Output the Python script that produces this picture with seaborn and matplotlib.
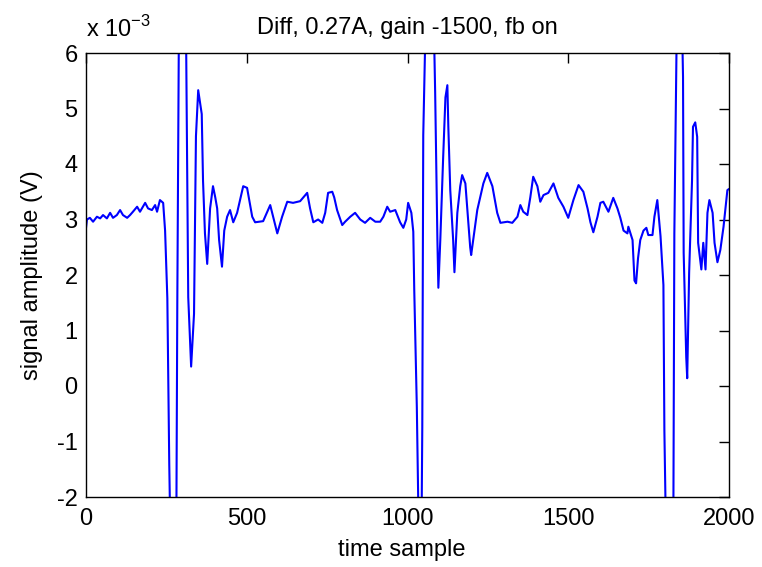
import matplotlib
matplotlib.use("Agg")
import matplotlib.pyplot as plt
import numpy as np
import pandas as pd
import seaborn as sns

# ---- data (amplitude in units of 1e-3 V) ----
t_base = [0, 3, 12, 22, 34, 44, 53, 65, 75, 84, 96, 106, 115, 128, 137, 146,
          159, 168, 184, 193, 205, 215, 221, 230, 240, 246]
v_base = [2.85, 3.0, 3.03, 2.96, 3.05, 3.02, 3.08, 3.02, 3.12, 3.03, 3.08, 3.17,
          3.08, 3.03, 3.08, 3.14, 3.23, 3.14, 3.3, 3.2, 3.17, 3.26, 3.14, 3.35,
          3.3, 2.8]

t_spike1 = [253, 259, 262, 272, 281, 284, 289, 300, 311, 313, 318, 327, 336,
            342, 349, 360, 364, 370, 377]
v_spike1 = [1.58, -1.42, -2.5, -4.5, -2.5, 1.5, 6.5, 8.5, 6.5, 5.15, 1.6, 0.35,
            1.3, 4.5, 5.33, 4.9, 3.7, 2.75, 2.2]

t_mid1 = [386, 395, 402, 408, 414, 423, 430, 439, 448, 458, 470, 489, 501, 517,
          526, 551, 573, 582, 595, 610, 626, 644, 666, 688, 697, 707, 722, 735,
          744, 753, 766, 772, 781, 797, 806, 822, 837, 853, 868, 884, 900, 915,
          925, 937, 946, 962, 977, 987, 996, 1002, 1012, 1018]
v_mid1 = [3.2, 3.6, 3.4, 3.2, 2.63, 2.15, 2.8, 3.05, 3.17, 2.95, 3.12, 3.6, 3.57,
          3.05, 2.95, 2.97, 3.26, 3.05, 2.75, 3.05, 3.32, 3.3, 3.33, 3.48, 3.2,
          2.95, 3.0, 2.94, 3.12, 3.48, 3.5, 3.4, 3.17, 2.9, 2.96, 3.05, 3.12, 3.0,
          2.94, 3.03, 2.96, 2.96, 3.05, 3.23, 3.14, 3.17, 2.95, 2.85, 3.0, 3.3,
          3.12, 2.78]

t_spike2 = [1021, 1029, 1034, 1039, 1044, 1046, 1049, 1055, 1069, 1083, 1086,
            1093, 1096, 1102, 1111, 1118, 1124, 1127, 1133, 1142, 1146]
v_spike2 = [1.73, -0.38, -2.3, -3.5, -2.3, -0.74, 4.52, 6.2, 8.5, 6.2, 5.3,
            2.63, 1.77, 2.63, 4.13, 5.2, 5.42, 4.67, 3.53, 2.63, 2.05]

t_mid2 = [1155, 1164, 1170, 1180, 1195, 1198, 1217, 1236, 1248, 1264, 1279,
          1289, 1311, 1326, 1342, 1351, 1360, 1373, 1382, 1391, 1404, 1413,
          1423, 1438, 1454, 1469, 1485, 1500, 1516, 1532, 1547, 1560, 1569,
          1578, 1591, 1600, 1609, 1625, 1640, 1653, 1662, 1672, 1684, 1687,
          1700, 1706, 1711, 1717, 1724, 1734, 1743, 1749, 1762, 1768, 1777, 1787]
v_mid2 = [3.12, 3.6, 3.8, 3.65, 2.5, 2.36, 3.17, 3.65, 3.84, 3.6, 3.12, 2.94,
          2.96, 2.94, 3.05, 3.26, 3.14, 3.08, 3.4, 3.77, 3.6, 3.32, 3.44, 3.48,
          3.65, 3.39, 3.23, 3.03, 3.35, 3.62, 3.5, 3.2, 2.95, 2.77, 3.05, 3.3,
          3.32, 3.14, 3.39, 3.2, 3.03, 2.8, 2.75, 2.87, 2.63, 1.9, 1.85, 2.3,
          2.63, 2.8, 2.85, 2.72, 2.72, 3.05, 3.35, 2.7]

t_spike3 = [1796, 1799, 1803, 1815, 1827, 1830, 1837, 1846, 1855, 1857, 1859,
            1867, 1870, 1876, 1885, 1888, 1895, 1901, 1904, 1914, 1920, 1927,
            1933, 1939, 1949, 1955, 1964, 1973, 1983, 1995, 2000]
v_spike3 = [1.82, -0.8, -2.3, -4.5, -2.3, 2.75, 6.2, 8.5, 6.2, 5.57, 2.4, 0.52,
            0.14, 2.04, 3.7, 4.67, 4.75, 4.49, 2.58, 2.1, 2.58, 2.1, 3.12, 3.35,
            3.12, 2.58, 2.23, 2.45, 2.87, 3.53, 3.55]

x_ticks = [0, 500, 1000, 1500, 2000]
y_ticks = [-2, -1, 0, 1, 2, 3, 4, 5, 6]

title_text = "Diff, 0.27A, gain -1500, fb on"
x_label = "time sample"
y_label = "signal amplitude (V)"
scale_text = r"x 10$^{-3}$"

time_sample = t_base + t_spike1 + t_mid1 + t_spike2 + t_mid2 + t_spike3
amplitude = v_base + v_spike1 + v_mid1 + v_spike2 + v_mid2 + v_spike3
assert len(time_sample) == len(amplitude)
df = pd.DataFrame({"t": time_sample, "amp": amplitude})

# ---- figure ----
sns.set_style("white")
plt.rcParams["font.family"] = ["Liberation Sans", "DejaVu Sans"]
plt.rcParams["mathtext.fontset"] = "custom"
plt.rcParams["mathtext.rm"] = "Liberation Sans"
plt.rcParams["axes.unicode_minus"] = False
plt.rcParams["text.color"] = "black"
plt.rcParams["axes.labelcolor"] = "black"

W, H = 762, 567
fig = plt.figure(figsize=(W / 100, H / 100), dpi=100)
L, R, T, B = 86, 729, 53, 497
ax = fig.add_axes([L / W, 1 - B / H, (R - L) / W, (B - T) / H])

sns.lineplot(data=df, x="t", y="amp", color="#0000ff", linewidth=1.5,
             estimator=None, sort=False, ax=ax)

ax.set_xlim(0, 2000)
ax.set_ylim(-2, 6)
ax.set_xticks(x_ticks)
ax.set_yticks(y_ticks)
fs = 17
ax.tick_params(direction="in", length=7, width=1, top=True, right=True,
               labelsize=fs, colors="black")
ax.tick_params(axis="x", pad=8)
ax.tick_params(axis="y", pad=6)
for s in ax.spines.values():
    s.set_visible(True)
    s.set_color("black")
    s.set_linewidth(1)

ax.set_xlabel(x_label, fontsize=fs, color="black")
ax.set_ylabel(y_label, fontsize=fs, color="black")
ax.xaxis.set_label_coords((401.5 - L) / (R - L), -(539 - B) / (B - T))
ax.yaxis.set_label_coords(-(86 - 43) / (R - L), 0.5)
ax.set_title(title_text, fontsize=fs, pad=14, color="black")
ax.text(0.0, 1.025, scale_text, transform=ax.transAxes, fontsize=fs,
        ha="left", va="bottom", color="black")

fig.savefig("out.png", dpi=100)
